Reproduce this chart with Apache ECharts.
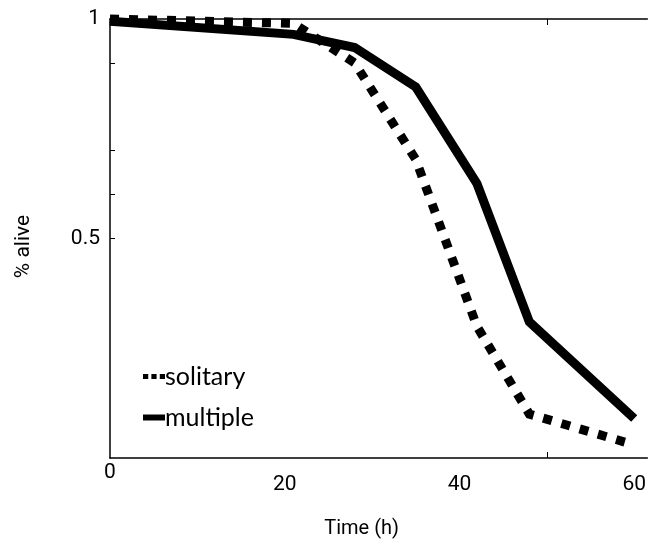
<!DOCTYPE html>
<html>
<head>
<meta charset="utf-8">
<script src="https://cdn.jsdelivr.net/npm/echarts@6/dist/echarts.min.js"></script>
<style>html,body{margin:0;padding:0;background:#fff}#c{width:649px;height:544px}</style>
</head>
<body>
<div id="c"></div>
<script>
const times = [0, 21, 28, 35, 42, 48, 60];
const solitary = [1.0, 0.99, 0.9, 0.68, 0.3, 0.1, 0.03];
const multiple = [0.995, 0.965, 0.935, 0.845, 0.625, 0.31, 0.09];
const xTicks = [0, 20, 40, 60];
const yTicks = [0.5, 1];
const seriesNames = ['solitary', 'multiple'];

const narrow = "'Liberation Sans Narrow', Roboto, 'Liberation Sans', sans-serif";
const chart = echarts.init(document.getElementById('c'), null, {renderer: 'canvas'});
const pairs = arr => times.map((t, i) => [t, arr[i]]);

chart.setOption({
  animation: false,
  backgroundColor: '#fff',
  color: ['#000', '#000'],
  grid: {left: 110, top: 19, right: 0, bottom: 86, containLabel: false},
  legend: {
    orient: 'vertical', left: 138, top: 359, itemGap: 16,
    itemWidth: 22, itemHeight: 6,
    textStyle: {fontFamily: "Lato, 'Open Sans', sans-serif", fontSize: 25, color: '#000', padding: [0,0,0,-5]},
    data: [
      {name: seriesNames[0], icon: 'path://M0,0h5v5h-5z M8,0h5v5h-5z M16,0h5v5h-5z', itemStyle: {color: '#000'}},
      {name: seriesNames[1], icon: 'rect', itemStyle: {color: '#000'}}
    ]
  },
  xAxis: [{
    type: 'value', min: 0, max: 61.5, interval: 20,
    position: 'bottom',
    name: 'Time (h)', nameLocation: 'middle', nameGap: 61,
    nameTextStyle: {fontFamily: narrow, fontSize: 20, color: '#000', padding: [0, 34, 0, 0]},
    axisLine: {show: true, onZero: false, lineStyle: {color: '#000', width: 1.5}},
    axisTick: {show: true, inside: true, length: 6, customValues: [50], lineStyle: {color: '#000'}},
    axisLabel: {
      show: true, margin: 4, customValues: xTicks,
      fontFamily: narrow, fontSize: 21, color: '#000',
      formatter: v => v === 0 ? '{z|0}' : '{n|' + v + '}',
      rich: {z: {fontFamily: narrow, fontSize: 21, color: '#000'},
             n: {fontFamily: narrow, fontSize: 21, color: '#000', padding: [12,0,0,0]}}
    },
    splitLine: {show: false}
  }, {
    type: 'value', min: 0, max: 61.5, position: 'top',
    axisLine: {show: true, onZero: false, lineStyle: {color: '#000', width: 1.5}},
    axisTick: {show: true, inside: true, length: 6, customValues: [50], lineStyle: {color: '#000'}},
    axisLabel: {show: false}, splitLine: {show: false}
  }],
  yAxis: {
    type: 'value', min: 0, max: 1, interval: 0.5,
    name: '% alive', nameLocation: 'middle', nameGap: 76,
    nameTextStyle: {fontFamily: narrow, fontSize: 21, color: '#000', padding: [0, 16, 0, 0]},
    axisLine: {show: true, onZero: false, lineStyle: {color: '#000', width: 1.5}},
    axisTick: {show: true, inside: true, length: 5, customValues: [0.5, 0.6, 0.7, 0.9], lineStyle: {color: '#000'}},
    axisLabel: {show: true, margin: 10, customValues: yTicks, fontFamily: narrow, fontSize: 21, color: '#000'},
    splitLine: {show: false}
  },
  series: [
    {name: seriesNames[0], type: 'line', data: pairs(solitary), symbol: 'none', clip: false,
     itemStyle: {color: '#000'},
     lineStyle: {color: '#000', width: 9, type: [9, 10], cap: 'butt', join: 'miter'}},
    {name: seriesNames[1], type: 'line', data: pairs(multiple), symbol: 'none', clip: false,
     itemStyle: {color: '#000'},
     lineStyle: {color: '#000', width: 9, type: 'solid', cap: 'butt', join: 'miter'}}
  ]
});
</script>
</body>
</html>
